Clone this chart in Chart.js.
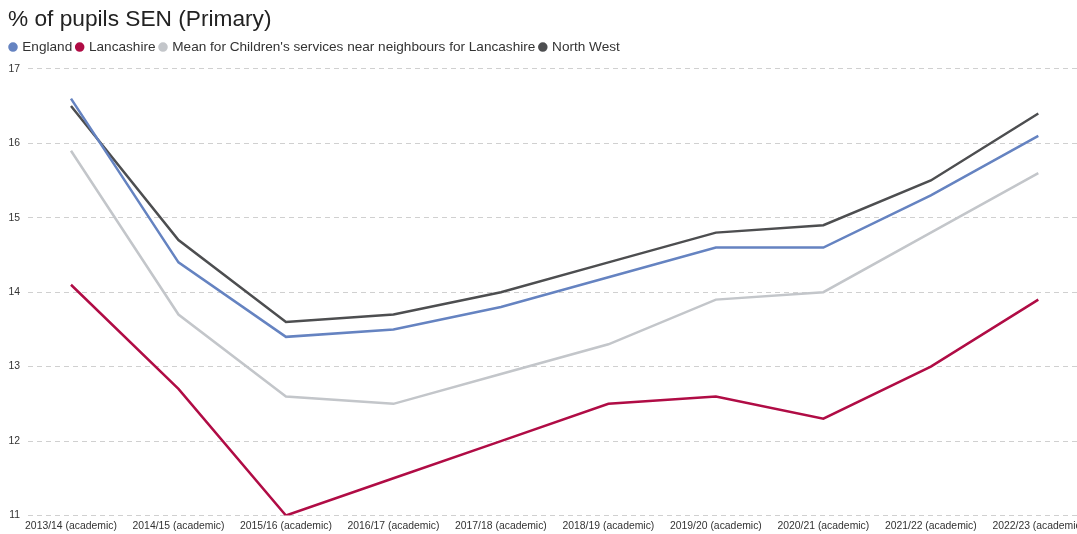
<!DOCTYPE html>
<html>
<head>
<meta charset="utf-8">
<script src="https://cdn.jsdelivr.net/npm/chart.js@4"></script>
<style>
  body { margin: 0; background: #fff; overflow: hidden; }
  #wrap { width: 1077px; height: 534px; overflow: hidden; }
</style>
</head>
<body>
<div id="wrap"><canvas id="graficoSen" width="1120" height="538"></canvas></div>
<script>
var anni = ['2013/14 (academic)', '2014/15 (academic)', '2015/16 (academic)', '2016/17 (academic)', '2017/18 (academic)',
  '2018/19 (academic)', '2019/20 (academic)', '2020/21 (academic)', '2021/22 (academic)', '2022/23 (academic)'];
var england = [16.6, 14.4, 13.4, 13.5, 13.8, 14.2, 14.6, 14.6, 15.3, 16.1];
var lancashire = [14.1, 12.7, 11.0, 11.5, 12.0, 12.5, 12.6, 12.3, 13.0, 13.9];
var vicini = [15.9, 13.7, 12.6, 12.5, 12.9, 13.3, 13.9, 14.0, 14.8, 15.6];
var northWest = [16.5, 14.7, 13.6, 13.7, 14.0, 14.4, 14.8, 14.9, 15.5, 16.4];

// punti {x: indice, y: valore} per l'asse x lineare
function punti(valori){
  var out = [];
  for (var i = 0; i < valori.length; i++) {
    out.push({x: i, y: valori[i]});
  }
  return out;
}

function serie(nome, valori, colore){
  return {
    label: nome,
    data: punti(valori),
    borderColor: colore,
    backgroundColor: colore,
    borderWidth: 2.5,
    pointRadius: 0,
    tension: 0
  };
}

var font = "'Liberation Sans', Arial, sans-serif";

// legenda: un po' di spazio sotto e spostata leggermente a sinistra
var spazioLegenda = {
  id: 'spazioLegenda',
  beforeInit: function(chart){
    var legenda = chart.legend;
    var fit = legenda.fit;
    var draw = legenda.draw;
    legenda.fit = function(){
      fit.call(this);
      this.height += 5;
    };
    legenda.draw = function(){
      var ctx = this.ctx;
      ctx.save();
      ctx.translate(-2.5, 0);
      draw.call(this);
      ctx.restore();
    };
  }
};

new Chart(document.getElementById('graficoSen'), {
  type: 'line',
  data: {
    datasets: [
      serie('England', england, '#6583c1'),
      serie('Lancashire', lancashire, '#b00c45'),
      serie("Mean for Children's services near neighbours for Lancashire", vicini, '#c3c6ca'),
      serie('North West', northWest, '#4d4e50')
    ]
  },
  plugins: [spazioLegenda],
  options: {
    responsive: false,
    animation: false,
    devicePixelRatio: 1,
    layout: { padding: { left: 8, right: 0, top: 6, bottom: 2 } },
    plugins: {
      title: {
        display: true,
        text: '% of pupils SEN (Primary)',
        align: 'start',
        color: '#222',
        font: { family: font, size: 22.7, weight: 'normal' },
        padding: { top: 0, bottom: 2 }
      },
      legend: {
        align: 'start',
        labels: {
          usePointStyle: true,
          pointStyle: 'circle',
          boxWidth: 5,
          boxHeight: 5,
          padding: 5,
          color: '#333',
          font: { family: font, size: 13.6 }
        }
      },
      tooltip: { enabled: false }
    },
    scales: {
      x: {
        type: 'linear',
        min: -0.4,
        max: 9.76,
        grid: { display: false, drawTicks: false },
        border: { display: false },
        ticks: {
          stepSize: 1,
          includeBounds: false,
          autoSkip: false,
          maxRotation: 0,
          padding: 4,
          color: '#333',
          font: { family: font, size: 10.4 },
          callback: function(v){
            return Number.isInteger(v) && anni[v] ? anni[v] : '';
          }
        }
      },
      y: {
        min: 11,
        max: 17,
        afterFit: function(s){ s.width = 20; },
        grid: { color: '#d0d0d0', drawTicks: false, lineWidth: 1 },
        border: { display: false, dash: [5, 4] },
        ticks: {
          stepSize: 1,
          padding: 8,
          color: '#333',
          font: { family: font, size: 10.4 }
        }
      }
    }
  }
});
</script>
</body>
</html>
